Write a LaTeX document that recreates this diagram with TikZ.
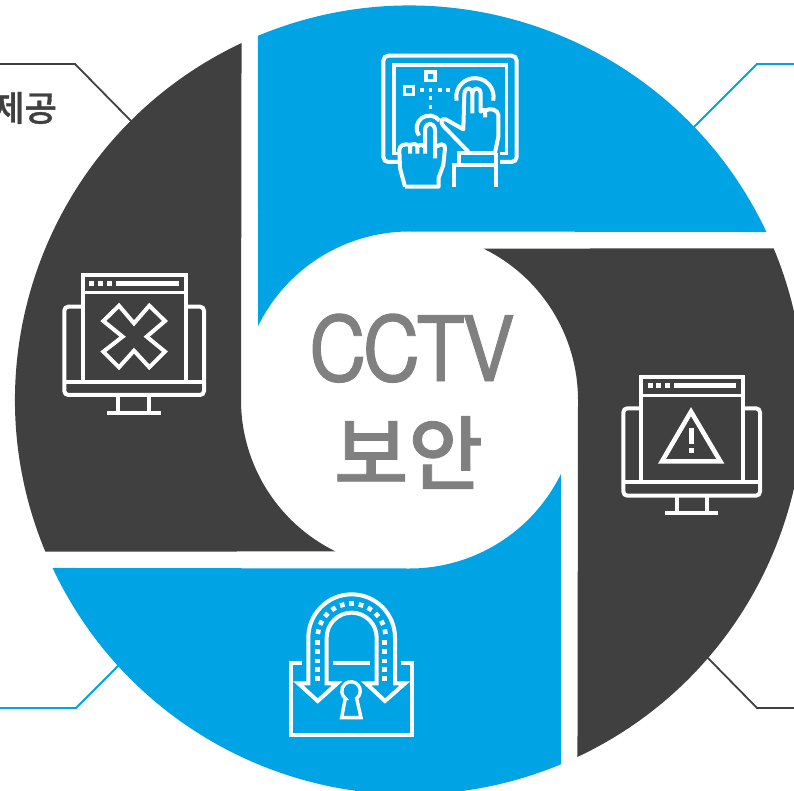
\documentclass[tikz,border=0pt]{standalone}
\usepackage{fontspec}
\setmainfont{Noto Sans}
\newfontfamily\cctvfont[LetterSpace=-4,FakeStretch=0.88,FakeBold=1]{TeX Gyre Heros}
\newfontfamily\krfont[FakeBold=1]{Noto Sans CJK KR Medium}
\definecolor{skyblue}{HTML}{00A3E4}
\definecolor{charcoal}{HTML}{404040}
\definecolor{midgrey}{HTML}{808080}
\tikzset{
  petal/.style={fill=#1,draw=none},
  glyphline/.style={draw=white,line width=4pt,line join=miter,line cap=butt},
  thinline/.style={draw=white,line width=3.2pt,line join=miter,line cap=butt},
  leader/.style={draw=#1,line width=1.8pt,line join=miter},
  title/.style={inner sep=0pt,text=midgrey},
}
\begin{document}
\begin{tikzpicture}[x=1pt,y=1pt,yscale=-1]
\useasboundingbox (0,0) rectangle (794,791);
\fill[white] (0,0) rectangle (794,791);
\clip (0,0) rectangle (794,791);

% Leaders
\coordinate (tlA) at (0,64);   \coordinate (tlB) at (75,64);   \coordinate (tlC) at (134,124);
\coordinate (trA) at (794,64); \coordinate (trB) at (757,64);  \coordinate (trC) at (692,129);
\coordinate (brA) at (794,708);\coordinate (brB) at (757,708); \coordinate (brC) at (705,655);
\coordinate (blA) at (0,708);  \coordinate (blB) at (76,708);  \coordinate (blC) at (121,663);
\draw[leader=charcoal] (tlA) -- (tlB) -- (tlC);
\draw[leader=skyblue] (trA) -- (trB) -- (trC);
\draw[leader=charcoal] (brA) -- (brB) -- (brC);
\draw[leader=skyblue] (blA) -- (blB) -- (blC);

% Pinwheel petals
\foreach \ang/\col in {0/skyblue,90/charcoal,180/skyblue,270/charcoal}{
  \begin{scope}[shift={(409.5,400)},rotate=\ang]
    \path[petal=\col] (247.4:394.5pt)
      arc[start angle=247.4,end angle=334.8,radius=394.5pt]
      -- (0,-168.5) arc[start angle=270,end angle=206,radius=168.5pt] -- cycle;
  \end{scope}
}

% Centre title
\node[title,anchor=base,font=\cctvfont\fontsize{90}{90}\selectfont] (cctv) at (412,381) {CCTV};
\node[title,anchor=center,font=\krfont\fontsize{81}{81}\selectfont] (boan) at (408.5,452.5) {보안};
\node[inner sep=0pt,anchor=east,text=charcoal,font=\krfont\fontsize{35}{35}\selectfont] (provide) at (57,108) {제공};

% Touch icon: frame
\begin{scope}[shift={(370,40)},scale=1/3]
  \draw[glyphline,rounded corners=5pt] (85,366) -- (40,366) -- (40,47) -- (440,47) -- (440,366) -- (390,366);
  \draw[thinline] (85,340) -- (72,340) -- (72,75) -- (410,75) -- (410,340) -- (390,340);
  \draw[thinline] (168,96) rectangle (195,121);
  \draw[thinline] (104,139) rectangle (131,164);
  \foreach \xx in {150,176,204,229}{\fill[white] (\xx,145) rectangle +(11,10);}
  \foreach \yy in {169,195}{\fill[white] (176,\yy) rectangle +(11,11);}
\end{scope}
% Touch icon: right hand
\begin{scope}[shift={(435,70)},scale=1/3]
  \draw[glyphline] (65,92) arc[start angle=168,end angle=372,radius=56pt];
  \draw[glyphline,line join=round] (100,245) -- (25,168) .. controls (15,155) and (18,145) .. (32,148) -- (85,178) -- (88,72)
     .. controls (90,50) and (112,50) .. (112,72) -- (112,130);
  \draw[glyphline,line join=round] (112,72) .. controls (114,50) and (137,50) .. (137,72) -- (137,125)
     .. controls (142,118) and (148,118) .. (150,122) -- (150,142);
  \draw[glyphline,line join=round] (150,122) .. controls (165,112) and (190,120) .. (190,135) -- (190,200) -- (180,248);
  \draw[glyphline] (72,285) -- (72,250) -- (184,250);
  \draw[glyphline] (58,352) -- (58,285) -- (184,285);
  \draw[glyphline] (182,250) -- (182,352);
\end{scope}
% Touch icon: left hand
\begin{scope}[shift={(390,105)},scale=1/3]
  \draw[glyphline] (87,92) arc[start angle=144,end angle=323,radius=38pt];
  \draw[glyphline,line join=round] (45,245) -- (30,190) -- (28,135) .. controls (28,120) and (45,115) .. (60,120) -- (60,146);
  \draw[glyphline,line join=round] (60,122) .. controls (68,115) and (80,115) .. (82,125) -- (82,146);
  \draw[glyphline,line join=round] (82,125) .. controls (90,118) and (100,118) .. (105,125) -- (105,146);
  \draw[glyphline,line join=round] (105,125) -- (105,75) .. controls (107,50) and (133,50) .. (135,75) -- (135,160);
  \draw[glyphline,line join=round] (135,126) -- (155,118) .. controls (163,118) and (165,122) .. (165,130) -- (160,180) -- (146,218) -- (146,245) -- (45,245);
\end{scope}

% Rejected monitor
\begin{scope}[shift={(50,260)},scale=1/3]
  \draw[glyphline] (98,362) -- (98,45) -- (408,45) -- (408,362);
  \draw[thinline] (98,97) -- (408,97);
  \foreach \xx in {117,143,170}{\fill[white] (\xx,62) rectangle +(15,16);}
  \fill[white] (198,62) rectangle (388,78);
  \draw[glyphline,rounded corners=4pt] (98,140) -- (43,140) -- (43,405) -- (462,405) -- (462,140) -- (408,140);
  \draw[glyphline] (43,365) -- (462,365);
  \draw[glyphline] (205,405) -- (205,456) (298,405) -- (298,456);
  \draw[glyphline] (172,458) -- (332,458);
  \draw[glyphline] (207,137) -- (252,190) -- (298,137) -- (345,183) -- (290,230) -- (345,275)
     -- (298,322) -- (252,272) -- (207,322) -- (160,275) -- (218,230) -- (160,183) -- cycle;
\end{scope}

% Warning monitor
\begin{scope}[shift={(610,365)},scale=1/3]
  \draw[glyphline] (93,352) -- (93,35) -- (398,35) -- (398,352);
  \draw[thinline] (93,92) -- (398,92);
  \foreach \xx in {115,139,165}{\fill[white] (\xx,53) rectangle +(15,17);}
  \fill[white] (192,53) rectangle (378,70);
  \draw[glyphline,rounded corners=4pt] (93,130) -- (40,130) -- (40,392) -- (450,392) -- (450,130) -- (398,130);
  \draw[glyphline] (40,352) -- (450,352);
  \draw[glyphline] (200,392) -- (200,441) (290,392) -- (290,441);
  \draw[glyphline] (165,443) -- (323,443);
  \draw[glyphline,line width=4.6pt] (243,140) -- (156,289) -- (331,289) -- cycle;
  \fill[white] (237,190) rectangle (252,237);
  \fill[white] (237,250) rectangle (252,265);
\end{scope}

% Lock icon
\begin{scope}[shift={(280,585)},scale=1/3]
  \draw[glyphline] (65,235) -- (32,235) -- (32,450) -- (395,450) -- (395,235) -- (362,235);
  \draw[glyphline] (160,235) -- (270,235);
  \draw[glyphline] (85,295) -- (55,295) -- (113,348) -- (172,295) -- (140,295) -- (140,158)
     arc[start angle=180,end angle=360,radius=75pt] -- (290,295) -- (258,295) -- (315,348) -- (375,295) -- (345,295) -- (345,158)
     arc[start angle=360,end angle=180,radius=130pt] -- cycle;
  \foreach \yy in {172,200,228,254,280}{
    \fill[white] (106,\yy-7) rectangle +(14,14);
    \fill[white] (307,\yy-7) rectangle +(14,14);
  }
  \foreach \aa in {190,206,222,238,254,270,286,302,318,334,350}{
    \fill[white,shift={(215,158)},rotate=\aa] (95,-7) rectangle (109,7);
  }
  \draw[glyphline,line width=3.4pt] (196,340) -- (185,398) -- (243,398) -- (230,340) arc[start angle=52.3,end angle=-232.3,radius=27.8pt] -- cycle;
\end{scope}
\end{tikzpicture}
\end{document}
